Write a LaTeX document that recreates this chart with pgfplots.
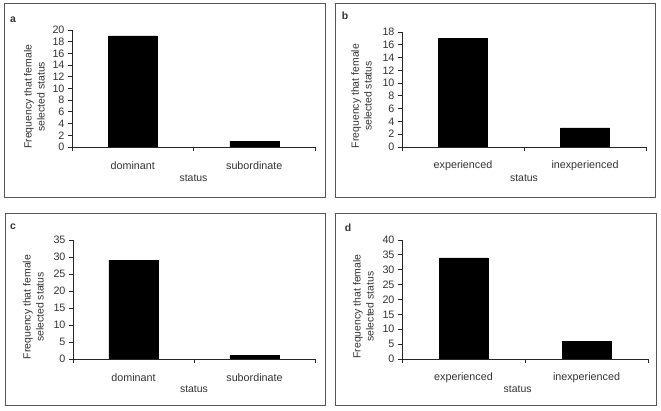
\documentclass[border=0pt]{standalone}
\usepackage{fontspec}
\setmainfont{Liberation Sans}
\usepackage{pgfplots}
\pgfplotsset{compat=1.18}
\definecolor{txt}{HTML}{333333}
\definecolor{frm}{HTML}{555555}
\pgfplotsset{
  panel/.style={
    scale only axis,
    axis lines=left,
    axis line style={-, draw=black!85, line width=0.8bp},
    ymin=0,
    xmin=-0.5, xmax=1.5,
    xtick={0,1},
    minor xtick={-0.5,0.5,1.5},
    major x tick style={draw=none},
    tick align=outside,
    major tick length=4bp,
    minor tick length=4bp,
    tick style={draw=black!85, line width=0.8bp},
    ybar,
    bar width=49bp,
    /pgf/number format/assume math mode=true,
    tick label style={font=\fontsize{10.8}{12}\selectfont, text=txt},
    label style={font=\fontsize{10.5}{13}\selectfont, text=txt},
    xticklabel style={anchor=center, yshift=-15bp},
    ylabel style={align=center, anchor=center},
    xlabel={status},
    ylabel={Frequency that female\\selected status},
  },
}
\begin{document}
\begin{tikzpicture}
\path[use as bounding box] (0bp,0bp) rectangle (661bp,411bp);
\draw[frm, line width=0.9bp] (4bp,214bp) rectangle (325bp,408bp);
\draw[frm, line width=0.9bp] (335bp,214bp) rectangle (655bp,408bp);
\draw[frm, line width=0.9bp] (5bp,6bp) rectangle (325bp,198bp);
\draw[frm, line width=0.9bp] (335bp,6bp) rectangle (656bp,198bp);
\node[font=\bfseries\fontsize{10.5}{12}\selectfont, text=txt] at (13bp,391bp) {a};
\node[font=\bfseries\fontsize{10.5}{12}\selectfont, text=txt] at (345bp,395bp) {b};
\node[font=\bfseries\fontsize{10.5}{12}\selectfont, text=txt] at (13bp,184bp) {c};
\node[font=\bfseries\fontsize{10.5}{12}\selectfont, text=txt] at (348bp,183bp) {d};

\begin{axis}[panel, at={(72bp,264bp)}, anchor=south west, width=243bp, height=117bp,
  ymax=20, ytick={0,2,...,20},
  xticklabels={dominant,subordinate},
  ylabel style={at={(axis description cs:-0.155,0.43)}},
  xlabel style={at={(axis description cs:0.5,0)}, anchor=center, yshift=-31bp}]
\addplot[fill=black, draw=black] coordinates {(0,19) (1,1)};
\end{axis}

\begin{axis}[panel, at={(402bp,264bp)}, anchor=south west, width=244bp, height=115bp,
  ymax=18, ytick={0,2,...,18},
  xticklabels={experienced,inexperienced},
  ylabel style={at={(axis description cs:-0.166,0.443)}},
  xlabel style={at={(axis description cs:0.5,0)}, anchor=center, yshift=-31bp}]
\addplot[fill=black, draw=black] coordinates {(0,17) (1,3)};
\end{axis}

\begin{axis}[panel, at={(73bp,52bp)}, anchor=south west, width=242bp, height=119bp,
  ymax=35, ytick={0,5,...,35},
  xticklabels={dominant,subordinate},
  ylabel style={at={(axis description cs:-0.164,0.437)}},
  xlabel style={at={(axis description cs:0.5,0)}, anchor=center, yshift=-30bp}]
\addplot[fill=black, draw=black] coordinates {(0,29) (1,1)};
\end{axis}

\begin{axis}[panel, at={(402bp,52bp)}, anchor=south west, width=246bp, height=119bp,
  ymax=40, ytick={0,5,...,40},
  xticklabels={experienced,inexperienced},
  ylabel style={at={(axis description cs:-0.157,0.441)}},
  xlabel style={at={(axis description cs:0.47,0)}, anchor=center, yshift=-30bp}]
\addplot[fill=black, draw=black] coordinates {(0,34) (1,6)};
\end{axis}
\end{tikzpicture}
\end{document}
